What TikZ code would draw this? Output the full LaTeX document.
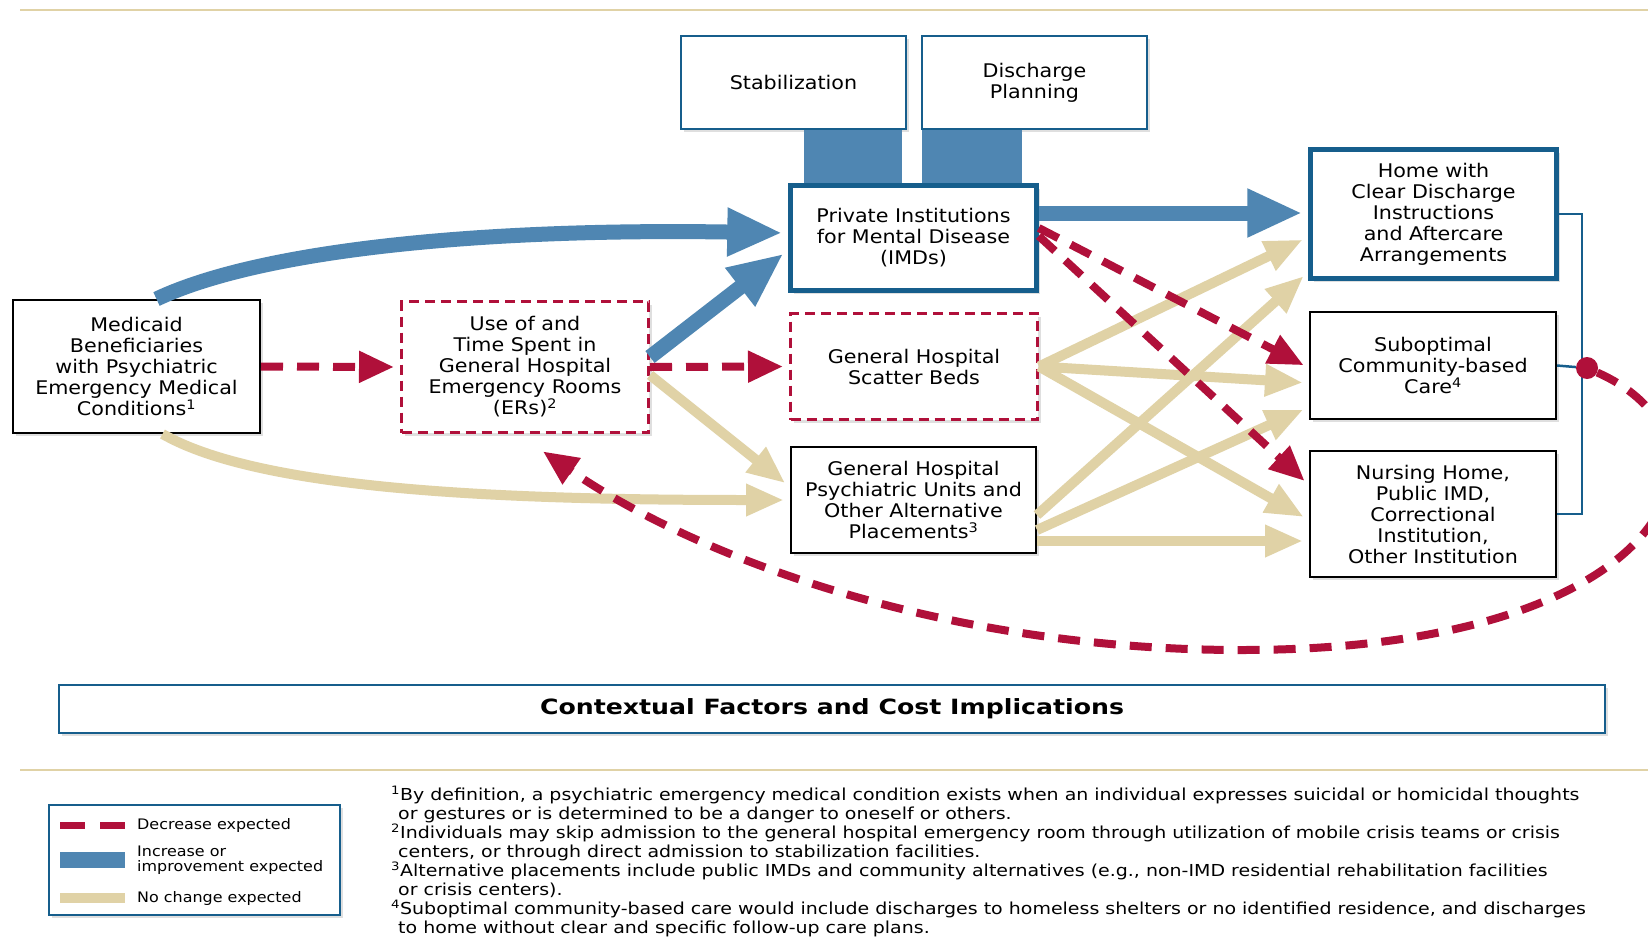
\documentclass[tikz,border=0pt]{standalone}
\usepackage{fontspec}
\setmainfont{DejaVu Sans}[FakeStretch=1.1]
\newfontfamily\titlefont{DejaVu Sans}[FakeStretch=1.2]
\newfontfamily\notefont{DejaVu Sans}[FakeStretch=1.15]
\usepackage{tikz}
\usetikzlibrary{arrows.meta,shadows}
\definecolor{incr}{RGB}{79,134,178}
\definecolor{decr}{RGB}{176,16,58}
\definecolor{same}{RGB}{224,210,166}
\definecolor{edge}{RGB}{22,94,140}

\begin{document}
\begin{tikzpicture}[x=1pt,y=-1pt,
  box/.style={draw,line width=2pt,fill=white,align=center,inner sep=0pt,
    font=\fontsize{18.8}{21}\selectfont,
    drop shadow={opacity=.25,shadow xshift=3pt,shadow yshift=-3pt}},
  redbox/.style={box,draw=decr,line width=3pt,dash pattern=on 10pt off 6pt},
  bluebox/.style={box,draw=edge,line width=4.5pt},
  topbox/.style={box,draw=edge},
  incarr/.style={incr,line width=15pt,shorten >=6pt,-{Triangle[length=55pt,width=45pt]}},
  decarr/.style={decr,line width=8pt,shorten >=6pt,dash pattern=on 22pt off 14pt,-{Triangle[length=35pt,width=30pt]}},
  samearr/.style={same,line width=10pt,shorten >=6pt,-{Triangle[length=38pt,width=30pt]}},
  legtext/.style={anchor=west,align=left,inner sep=0pt,font=\fontsize{14.5}{15}\selectfont}]
\useasboundingbox[fill=white] (0,0) rectangle (1648,945);
\draw[same,line width=2pt] (20,10) -- (1648,10);
\draw[same,line width=2pt] (20,770) -- (1648,770);

\draw (793.5,82.5) node (35) [topbox,minimum width=225,minimum height=93] {Stabilization};
\draw (1034.5,82.5) node (36) [topbox,minimum width=225,minimum height=93] {Discharge\\Planning};
\draw (136.5,366.5) node (10) [box,minimum width=247,minimum height=133] {Medicaid\\Beneficiaries\\with Psychiatric\\Emergency Medical\\Conditions\textsuperscript{1}};
\draw (525,367) node (20) [redbox,minimum width=247,minimum height=131] {Use of and\\Time Spent in\\General Hospital\\Emergency Rooms\\(ERs)\textsuperscript{2}};
\draw (913.5,238) node (30) [bluebox,minimum width=246,minimum height=105] {Private Institutions\\for Mental Disease\\(IMDs)};
\draw (914,366.5) node (31) [redbox,minimum width=247,minimum height=106] {General Hospital\\Scatter Beds};
\draw (913.5,500) node (32) [box,minimum width=245,minimum height=106] {General Hospital\\Psychiatric Units and\\Other Alternative\\Placements\textsuperscript{3}};
\draw (1433.5,214) node (40) [bluebox,minimum width=246,minimum height=129] {Home with\\Clear Discharge\\Instructions\\and Aftercare\\Arrangements};
\draw (1433,365.5) node (41) [box,minimum width=246,minimum height=107] {Suboptimal\\Community-based\\Care\textsuperscript{4}};
\draw (1433,514) node (42) [box,minimum width=246,minimum height=126] {Nursing Home,\\Public IMD,\\Correctional\\Institution,\\Other Institution};

\fill[incr] (804,130) rectangle (902,183);
\fill[incr] (922,130) rectangle (1022,183);

\draw[incarr] ([xshift=20pt]10.north) .. controls (260,250) and (480,228) .. ([yshift=5pt]30.west);
\draw[samearr] ([xshift=26pt]10.south) .. controls (260,490) and (500,500) .. (32.west);
\draw[decarr] (10.east) -- (20.west);
\draw[incarr] ([yshift=10pt]20.east) -- ([yshift=-12pt]30.west);
\draw[samearr] ([yshift=-8pt]20.east) -- ([yshift=13pt]32.west);
\draw[decarr] (20.east) -- (31.west);
\draw[incarr] ([yshift=25pt]30.east) -- ([yshift=1pt]40.west);
\draw[samearr] (31.east) -- ([yshift=-23pt]40.west);
\draw[samearr] (31.east) -- ([yshift=-17.5pt]41.west);
\draw[samearr] (31.east) -- ([yshift=-6pt]42.west);
\draw[samearr] ([yshift=-15pt]32.east) -- ([yshift=-58pt]40.west);
\draw[samearr] ([yshift=-30pt]32.east) -- ([yshift=-41.5pt]41.west);
\draw[samearr] ([yshift=-41pt]32.east) -- ([yshift=-27pt]42.west);
\draw[decarr] ([yshift=10pt]30.east) -- ([yshift=-2.5pt]41.west);
\draw[decarr] ([yshift=2pt]30.east) -- ([yshift=29pt]42.west);

\draw[edge,line width=2.5pt] (40.east) -- ++(23,0) |- (42.east);
\draw (1587,368) node (50) [circle,fill=decr,inner sep=0pt,minimum size=22pt] {};
\draw[edge,line width=2.5pt] (41.east) -- (50);
\draw[decarr] (50) .. controls (1750,440) and (1680,650) .. (1241,650) .. controls (950,650) and (700,560) .. ([xshift=13pt,yshift=-14pt]20.south);

\draw (832,709) node (60) [topbox,minimum width=1546,minimum height=48,font=\titlefont\bfseries\fontsize{21}{24}\selectfont] {Contextual Factors and Cost Implications};

\draw (194.5,860) node (70) [topbox,minimum width=291,minimum height=110] {};
\draw[decr,line width=7pt,dash pattern=on 25pt off 15pt] (60,825) -- (125,825);
\draw[incr,line width=16pt] (60,860) -- (125,860);
\draw[same,line width=10pt] (60,898) -- (125,898);
\draw (137,825) node (71) [legtext] {Decrease expected};
\draw (137,860) node (72) [legtext] {Increase or\\improvement expected};
\draw (137,898) node (73) [legtext] {No change expected};

\draw (391,786) node (80) [anchor=north west,align=left,inner sep=0pt,font=\notefont\fontsize{16.5}{19}\selectfont] {\textsuperscript{1}By definition, a psychiatric emergency medical condition exists when an individual expresses suicidal or homicidal thoughts\\\hspace*{7pt}or gestures or is determined to be a danger to oneself or others.\\\textsuperscript{2}Individuals may skip admission to the general hospital emergency room through utilization of mobile crisis teams or crisis\\\hspace*{7pt}centers, or through direct admission to stabilization facilities.\\\textsuperscript{3}Alternative placements include public IMDs and community alternatives (e.g., non-IMD residential rehabilitation facilities\\\hspace*{7pt}or crisis centers).\\\textsuperscript{4}Suboptimal community-based care would include discharges to homeless shelters or no identified residence, and discharges\\\hspace*{7pt}to home without clear and specific follow-up care plans.};
\end{tikzpicture}
\end{document}
